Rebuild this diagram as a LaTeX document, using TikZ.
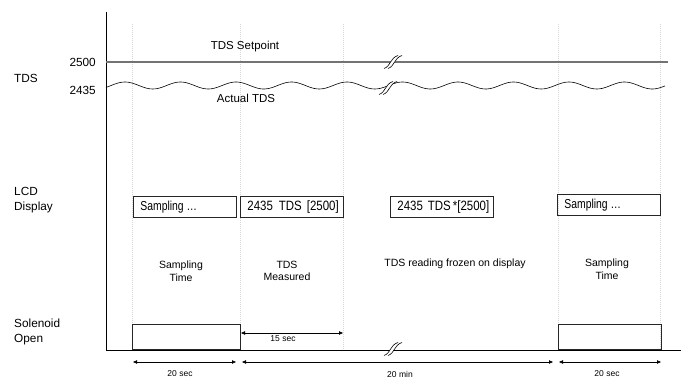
\documentclass[tikz,border=0pt]{standalone}
\usepackage{fontspec}
\setmainfont{Liberation Sans}
\newfontfamily\lcdfont[FakeStretch=0.85]{Liberation Sans}
\newfontfamily\lcdfontn[FakeStretch=0.8]{Liberation Sans}
\usetikzlibrary{arrows.meta}
\newcommand{\lcdnum}[1]{{\lcdfont\fontsize{13.5}{15}\selectfont #1}}
\newcommand{\lcdtxt}[1]{{\lcdfontn\fontsize{13}{15}\selectfont #1}}
\begin{document}
\begin{tikzpicture}[x=1pt,y=-1pt,
  gridln/.style={draw=black!16, line width=0.4pt, dash pattern=on 1pt off 1pt},
  axisln/.style={draw=black, line width=0.9pt},
  side/.style={font=\fontsize{11.8}{15}\selectfont, align=left, inner sep=0pt},
  ylab/.style={font=\fontsize{11.8}{14}\selectfont, inner sep=0pt, anchor=east},
  mid/.style={font=\fontsize{10.5}{12.5}\selectfont, align=center, inner sep=0pt},
  small/.style={font=\fontsize{8.5}{10}\selectfont, inner sep=0pt},
  lcdbox/.style={draw=black!85, line width=0.8pt, minimum width=103pt, inner xsep=7pt, inner ysep=0pt,
    minimum height=21pt, anchor=north west},
  solbox/.style={draw=black!85, line width=0.9pt, minimum height=25pt, inner sep=0pt, anchor=south west},
  dim/.style={draw=black, line width=0.45pt, {Triangle[length=4pt,width=3.4pt]}-{Triangle[length=4pt,width=3.4pt]}},
  brk/.pic={
    \fill[white] (-9,6.5) .. controls (-2,4) and (-3,-4) .. (5,-6.5) -- (9,-6.5) .. controls (1,-4) and (2,4) .. (-5,6.5) -- cycle;
    \draw[black, line width=0.6pt] (-9,6.5) .. controls (-2,4) and (-3,-4) .. (5,-6.5);
    \draw[black, line width=0.6pt] (-5,6.5) .. controls (2,4) and (1,-4) .. (9,-6.5);
  }
]
\useasboundingbox (0,0) rectangle (686,379);

% grid lines
\foreach \gx in {132,240,343,558,660} \draw[gridln] (\gx,24) -- (\gx,350);

% axes
\coordinate (otop) at (106,12);
\coordinate (orig) at (106,350);
\coordinate (xend) at (681,350);
\draw[axisln] (otop) -- (orig) -- (xend);

% setpoint line
\coordinate (sp0) at (106,62);
\coordinate (sp1) at (668,62);
\draw[draw=black!55, line width=1.3pt] (sp0) -- (sp1);

% actual TDS wave
\draw[black, line width=0.6pt] plot[domain=106:665, samples=240, smooth] (\x, {85.5 - 3.5*cos((\x-125)/55.5*360)});

% break marks
\pic at (393,62) {brk};
\pic at (388,88) {brk};
\pic at (393,349) {brk};

% labels
\node[side, anchor=west] (tds) at (14,78) {TDS};
\node[ylab] (v2500) at (96,62) {2500};
\node[ylab] (v2435) at (96,90) {2435};
\node[font=\fontsize{11.5}{13}\selectfont, inner sep=0pt] (setp) at (245,47) {TDS Setpoint};
\node[font=\fontsize{11.5}{13}\selectfont, inner sep=0pt] (act) at (246,98) {Actual TDS};
\node[side, anchor=west] (lcd) at (14,200) {LCD\\Display};
\node[side, anchor=west] (sol) at (14,332) {Solenoid\\Open};

% LCD boxes
\node[lcdbox] (b1) at (133,196) {\makebox[89pt][l]{\lcdtxt{Sampling \dots}}};
\node[lcdbox] (b2) at (240,196) {\makebox[89pt][l]{\lcdnum{2435\hspace{6pt}TDS\hspace{5pt}[2500]}}};
\node[lcdbox] (b3) at (390,196) {\makebox[89pt][l]{\lcdnum{2435\hspace{5pt}TDS\hspace{2pt}*[2500]}}};
\node[lcdbox] (b4) at (557,194) {\makebox[89pt][l]{\lcdtxt{Sampling \dots}}};

% phase labels
\node[mid] (m1) at (181,271) {Sampling\\Time};
\node[mid] (m2) at (287,271) {TDS\\Measured};
\node[mid] (m3) at (455,264) {TDS reading frozen on display};
\node[mid] (m4) at (607,269) {Sampling\\Time};

% solenoid boxes
\node[solbox, minimum width=108pt] (s1) at (132,350) {};
\node[solbox, minimum width=103pt] (s2) at (558,350) {};

% 15 sec
\coordinate (f1) at (241,333);
\coordinate (f2) at (343,333);
\draw[dim] (f1) -- (f2);
\node[small] (l15) at (283,339) {15 sec};

% bottom dimensions
\coordinate (a1) at (133,362);
\coordinate (a2) at (236,362);
\coordinate (a3) at (242,362);
\coordinate (a4) at (553,362);
\coordinate (a5) at (559,362);
\coordinate (a6) at (661,362);
\draw[dim] (a1) -- (a2);
\draw[dim] (a3) -- (a4);
\draw[dim] (a5) -- (a6);
\node[small] (l20a) at (180,374) {20 sec};
\node[small] (l20m) at (400,374) {20 min};
\node[small] (l20b) at (607,374) {20 sec};
\end{tikzpicture}
\end{document}
